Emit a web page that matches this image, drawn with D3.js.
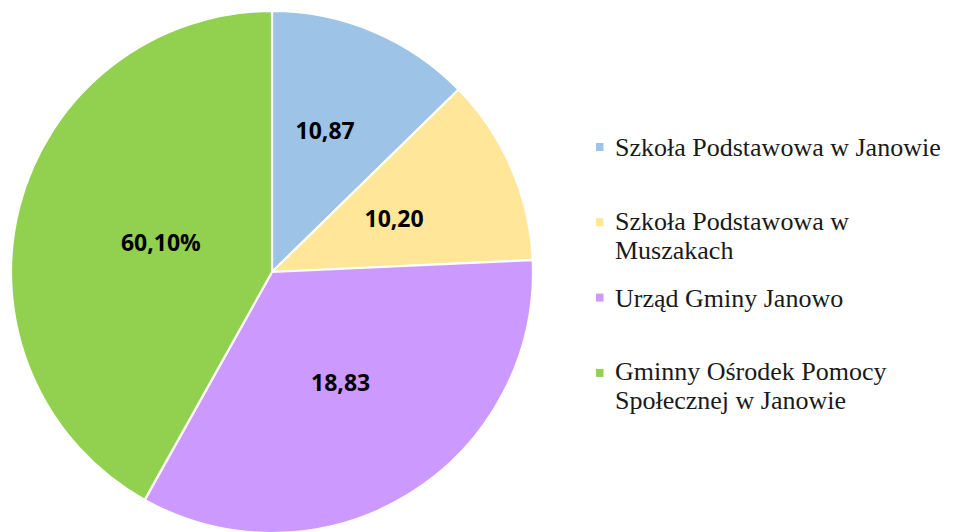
<!DOCTYPE html>
<html lang="pl">
<head>
<meta charset="UTF-8">
<title>Pie chart</title>
<script src="https://d3js.org/d3.v7.min.js"></script>
<style>
  body { margin: 0; background: #fff; }
  svg { display: block; }
</style>
</head>
<body>
<div id="chart"></div>
<script>
// categories (legend entries, each may wrap to 2 lines)
const categories = [
  ["Szkoła Podstawowa w Janowie"],
  ["Szkoła Podstawowa w", "Muszakach"],
  ["Urząd Gminy Janowo"],
  ["Gminny Ośrodek Pomocy", "Społecznej w Janowie"]
];
// slice sizes as drawn in the picture (share of the circle, %)
const shares = [12.68, 11.59, 33.84, 41.89];
// data label texts as printed on the slices
const labels = ["10,87", "10,20", "18,83", "60,10%"];
const colors = ["#9dc3e6", "#ffe699", "#cc99ff", "#92d050"];

const width = 970, height = 532;
const cx = 272, cy = 272, radius = 261;
// how far out each label sits, as fraction of radius
const labelPos = [0.58, 0.51, 0.5, 0.44];

const svg = d3.select("#chart").append("svg")
  .attr("width", width)
  .attr("height", height);

const pie = d3.pie().sort(null).value(d => d);
const arcs = pie(shares);

const arc = d3.arc().innerRadius(0).outerRadius(radius);

const g = svg.append("g").attr("transform", `translate(${cx},${cy})`);

g.selectAll("path")
  .data(arcs)
  .enter().append("path")
  .attr("d", arc)
  .attr("fill", (d, i) => colors[i])
  .attr("stroke", "#fff")
  .attr("stroke-width", 2.2)
  .attr("stroke-linejoin", "round");

g.selectAll("text.lbl")
  .data(arcs)
  .enter().append("text")
  .attr("class", "lbl")
  .attr("transform", (d, i) => {
    const r = radius * labelPos[i];
    const a = (d.startAngle + d.endAngle) / 2 - (i == 0 ? 0.04 : 0);
    return `translate(${r * Math.sin(a)},${-r * Math.cos(a)})`;
  })
  .attr("text-anchor", "middle")
  .attr("dy", "0.36em")
  .attr("font-family", "'Open Sans', sans-serif")
  .attr("font-weight", 700)
  .attr("font-size", 23)
  .attr("fill", "#000")
  .text((d, i) => labels[i]);

// legend
const legX = 596, legY = 156, legStep = 75.3, lineH = 29;
const leg = svg.append("g");
const items = leg.selectAll("g")
  .data(categories)
  .enter().append("g")
  .attr("transform", (d, i) => `translate(${legX},${legY + i * legStep})`);

items.append("rect")
  .attr("x", 0)
  .attr("y", -13)
  .attr("width", 7.5)
  .attr("height", 8)
  .attr("fill", (d, i) => colors[i]);

// one text per line so wrapped lines stay separate
items.selectAll("text")
  .data(d => d.map((t, j) => ({t, j, n: d.length})))
  .enter().append("text")
  .attr("x", 19)
  .attr("y", d => d.j * lineH - (d.n > 1 ? 1.5 : 0))
  .attr("font-family", "'Liberation Serif', 'Times New Roman', serif")
  .attr("font-size", 26)
  .attr("fill", "#1a1a1a")
  .text(d => d.t);
</script>
</body>
</html>
